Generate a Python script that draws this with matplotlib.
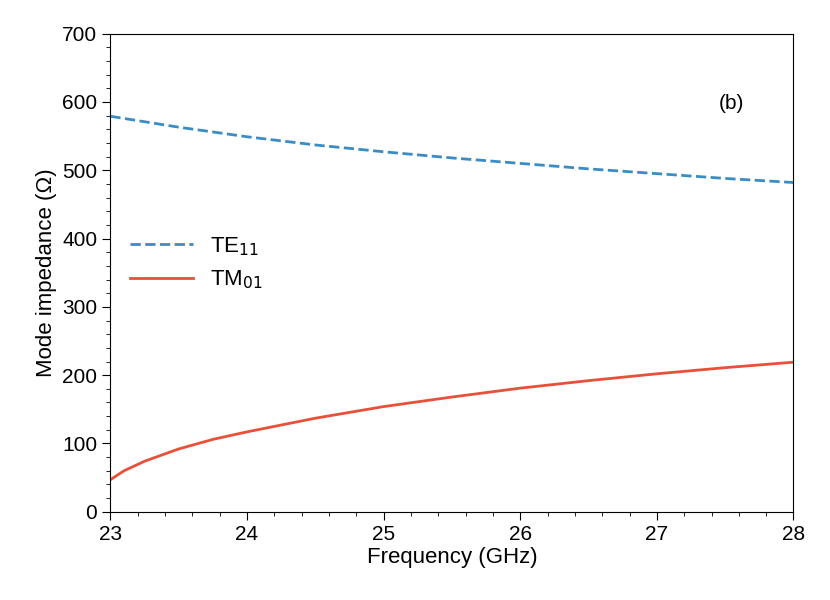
import numpy as np
import matplotlib.pyplot as plt
from matplotlib.ticker import MultipleLocator

plt.rcParams["font.family"] = ["Liberation Sans", "DejaVu Sans"]

freq_te = [23.0, 23.5, 24.0, 24.5, 25.0, 25.5, 26.0, 26.5, 27.0, 27.5, 28.0]
z_te11 = [579, 563, 549, 537, 527, 518, 510, 502, 495, 488, 482]

freq_tm = [23.0, 23.1, 23.25, 23.5, 23.75, 24.0, 24.5, 25.0, 25.5, 26.0, 26.5, 27.0, 27.5, 28.0]
z_tm01 = [47, 60, 74, 92, 106, 117, 137, 154, 168, 181, 192, 202, 211, 219]

fig = plt.figure(figsize=(8.3, 6.0), dpi=100)
ax = fig.add_axes([0.133, 0.147, 0.823, 0.797])

ax.plot(freq_te, z_te11, "--", color="#3a8dc4", lw=2, label="TE$_{11}$")
ax.plot(freq_tm, z_tm01, "-", color="#e8503a", lw=2, label="TM$_{01}$")

ax.set_xlim(23, 28)
ax.set_ylim(0, 700)
ax.xaxis.set_major_locator(MultipleLocator(1))
ax.xaxis.set_minor_locator(MultipleLocator(0.2))
ax.yaxis.set_major_locator(MultipleLocator(100))
ax.yaxis.set_minor_locator(MultipleLocator(20))
ax.tick_params(which="both", direction="out", labelsize=15)
ax.tick_params(which="major", length=6)
ax.tick_params(which="minor", length=3)

ax.set_xlabel("Frequency (GHz)", fontsize=16, labelpad=2)
ax.set_ylabel("Mode impedance (\u03a9)", fontsize=16)
ax.text(27.45, 590, "(b)", fontsize=15)

ax.legend(loc="center left", bbox_to_anchor=(0.0, 0.52), frameon=False,
          fontsize=16, handlelength=2.8)

fig.savefig("out.png", dpi=100)
